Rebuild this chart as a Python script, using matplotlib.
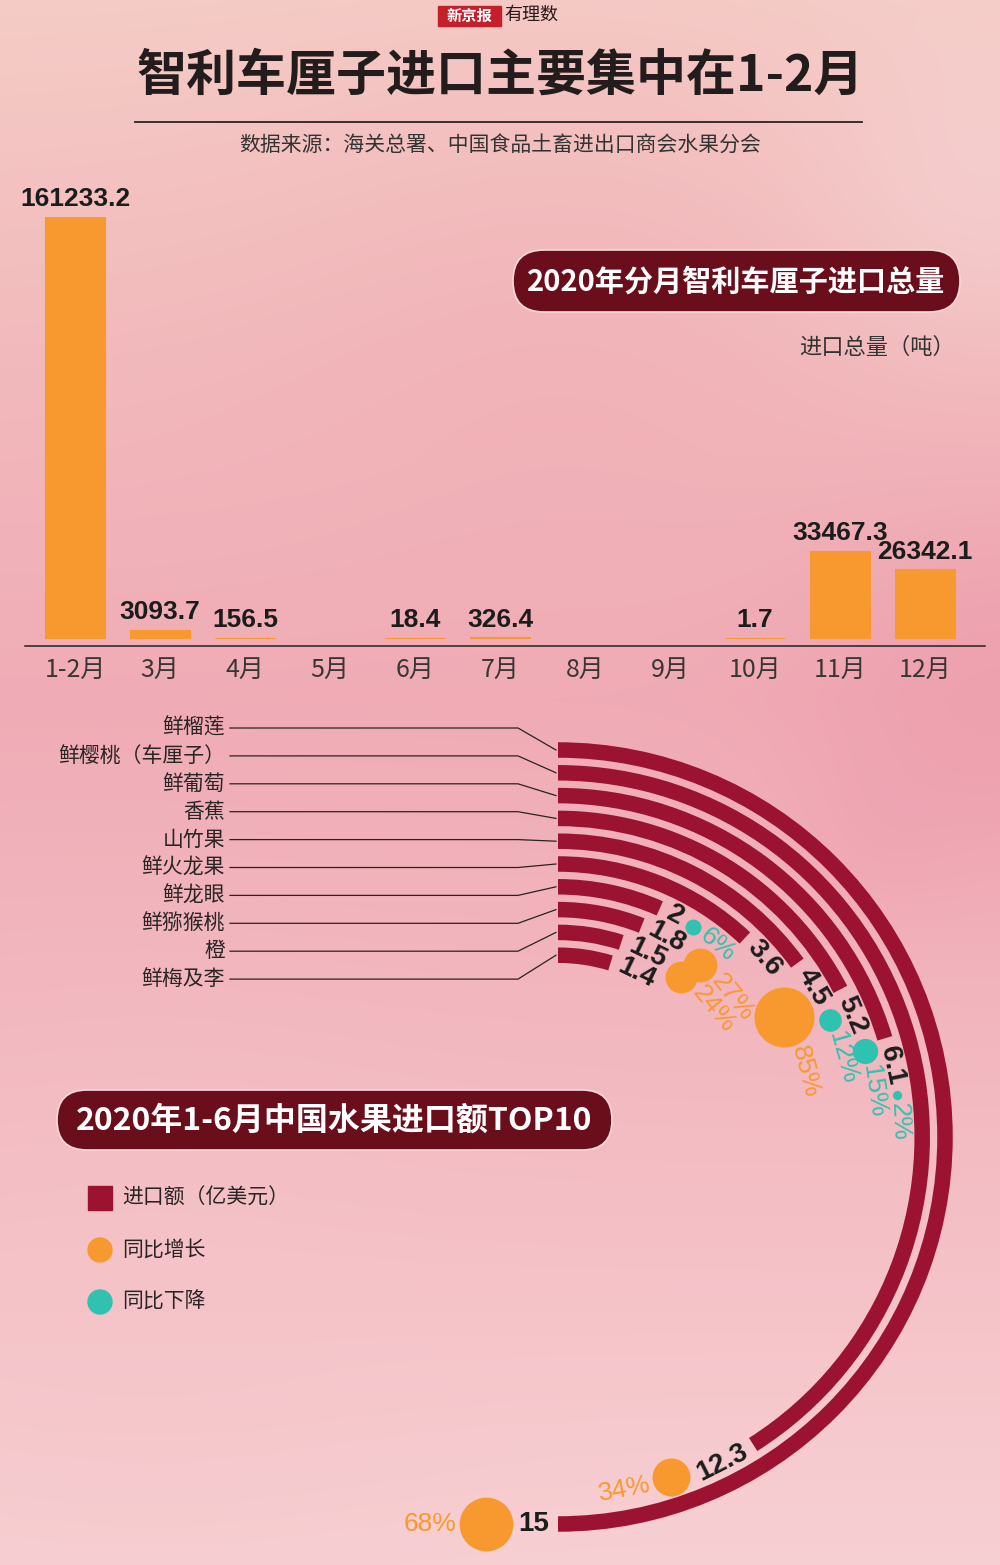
"""Chile cherry imports by month + China top-10 fruit imports (radial bars)."""

import matplotlib

matplotlib.use("Agg")
import matplotlib.pyplot as plt
import numpy as np
from matplotlib.font_manager import FontProperties
from matplotlib.patches import Circle, FancyBboxPatch, Rectangle
from matplotlib.textpath import TextPath

W, H, DPI = 1000, 1565, 100
CJK = ["Noto Sans CJK SC", "DejaVu Sans"]
NUM = ["Liberation Sans", "DejaVu Sans"]

MAROON = "#9b1331"
PILL = "#6a0e1c"
ORANGE = "#f7992f"
TEAL = "#2fc2b0"
INK = "#1c1c1c"

# ---- data: monthly imports of Chilean cherries, 2020 (tonnes)
months = ["1-2月", "3月", "4月", "5月", "6月", "7月", "8月", "9月", "10月", "11月", "12月"]
tonnes = [161233.2, 3093.7, 156.5, np.nan, 18.4, 326.4, np.nan, np.nan, 1.7, 33467.3, 26342.1]
tonne_labels = ["161233.2", "3093.7", "156.5", "", "18.4", "326.4", "", "", "1.7", "33467.3", "26342.1"]

# ---- data: top-10 fruit imports Jan-Jun 2020 (100M USD) and YoY change (%)
fruits = ["鲜榴莲", "鲜樱桃（车厘子）", "鲜葡萄", "香蕉", "山竹果", "鲜火龙果", "鲜龙眼", "鲜猕猴桃", "橙", "鲜梅及李"]
usd = [15, 12.3, 6.1, 5.2, 4.5, 3.6, 2, 1.8, 1.5, 1.4]
usd_labels = ["15", "12.3", "6.1", "5.2", "4.5", "3.6", "2", "1.8", "1.5", "1.4"]
yoy = [68, 34, -2, -15, -12, 85, -6, 27, 24, np.nan]


def text_px(s, size, family, weight="normal"):
    fp = FontProperties(family=family, size=size, weight=weight)
    return TextPath((0, 0), s, size=size, prop=fp).get_extents().width * DPI / 72


fig = plt.figure(figsize=(W / DPI, H / DPI), dpi=DPI)

# ---- background wash
bg = fig.add_axes([0, 0, 1, 1], zorder=0)
yy, xx = np.mgrid[0:H, 0:W]
stops_y = [0, 350, 700, 1100, 1565]
stops_c = [(245, 204, 198), (242, 186, 188), (240, 172, 182), (243, 186, 193), (247, 208, 211)]
img = np.stack([np.interp(yy, stops_y, [c[k] for c in stops_c]) for k in range(3)], axis=-1)
blobs = [(1000, 700, 140, (236, 150, 168), 0.55), (880, 830, 60, (238, 160, 176), 0.4),
         (560, 380, 220, (240, 168, 178), 0.35), (150, 1300, 200, (244, 196, 200), 0.4),
         (980, 180, 120, (246, 214, 214), 0.5)]
for bx, by, sg, col, a in blobs:
    wgt = a * np.exp(-((xx - bx) ** 2 + (yy - by) ** 2) / (2 * sg ** 2))
    img = img * (1 - wgt[..., None]) + np.array(col) * wgt[..., None]
bg.imshow(img.astype(np.uint8), extent=[0, W, H, 0], aspect="auto")
bg.set_xlim(0, W)
bg.set_ylim(H, 0)
bg.axis("off")

# ---- monthly bar chart
BASE_Y, ZERO_Y, TOP_Y = 646, 638, 217
ax_b = fig.add_axes([25 / W, (H - BASE_Y) / H, 960 / W, (BASE_Y - TOP_Y) / H], zorder=2)
ax_b.patch.set_alpha(0)
x = np.arange(len(months))
ymax = np.nanmax(tonnes)
ax_b.bar(x, tonnes, width=0.7, color=ORANGE, edgecolor=ORANGE, linewidth=0.8)
ax_b.set_xlim(-50 / 85, len(months) - 1 + 60 / 85)
ax_b.set_ylim(-ymax * (BASE_Y - ZERO_Y) / (ZERO_Y - TOP_Y), ymax)
for xi, v, lab in zip(x, tonnes, tonne_labels):
    if np.isnan(v):
        continue
    ax_b.annotate(lab, (xi, v), xytext=(0, 4), textcoords="offset points", ha="center", va="bottom",
                  fontsize=19, fontweight="bold", family=NUM, color=INK)
ax_b.set_xticks(x)
ax_b.set_xticklabels(months, family=CJK, fontsize=18, color="#3a3535")
ax_b.set_yticks([])
ax_b.tick_params(axis="x", length=0, pad=8)
for side in ["left", "right", "top"]:
    ax_b.spines[side].set_visible(False)
ax_b.spines["bottom"].set_color("#222222")
ax_b.spines["bottom"].set_linewidth(1.1)

# ---- radial bars
CX, CY, R_OUT, STEP, BAND, RLIM = 558, 1137, 387, 22.8, 15.5, 400
ax_p = fig.add_axes([(CX - RLIM) / W, (H - CY - RLIM) / H, 2 * RLIM / W, 2 * RLIM / H],
                    projection="polar", zorder=3)
ax_p.patch.set_alpha(0)
ax_p.set_theta_zero_location("N")
ax_p.set_theta_direction(-1)
ax_p.set_ylim(0, RLIM)
ax_p.axis("off")

K = 22.0  # marker area (pt^2) per percent
GAP1, GAP2, GAP3 = 10, 7, 4
vmax = max(usd)


def rot_for(phi):
    d = np.degrees(phi)
    return -d if d <= 90 else 180 - d


for i, (v, lab, p) in enumerate(zip(usd, usd_labels, yoy)):
    r = R_OUT - i * STEP
    end = v / vmax * np.pi
    ax_p.bar(0, BAND, width=end, bottom=r - BAND / 2, align="edge", color=MAROON, linewidth=0)

    if i == 0:
        # outermost ring: annotations run straight along the end tangent
        def place(s, rr):
            return end + np.arctan(s / rr), np.hypot(rr, s), rot_for(end)
    else:
        # inner rings: annotations follow the ring
        def place(s, rr):
            ph = end + s / rr
            return ph, rr, rot_for(ph)

    wl = text_px(lab, 20, NUM, "bold")
    s = GAP1 + wl / 2
    ph, rr, rot = place(s, r)
    ax_p.text(ph, rr, lab, fontsize=20, fontweight="bold", family=NUM, color=INK, ha="center",
              va="center", rotation=rot, rotation_mode="anchor", zorder=6, clip_on=False)
    if np.isnan(p):
        continue
    size = K * abs(p)
    rad = np.sqrt(size) * DPI / 72 / 2
    col = ORANGE if p > 0 else TEAL
    # keep the dot clear of the next ring outward
    rc = r if i == 0 else min(r, r + STEP - BAND / 2 - rad - 2)
    s += wl / 2 + GAP2 + rad
    ph, rr, _ = place(s, rc)
    ax_p.scatter([ph], [rr], s=size, color=col, linewidths=0, zorder=4, clip_on=False)
    pl = f"{abs(p):g}%"
    wp = text_px(pl, 19, NUM)
    s += rad + GAP3 + wp / 2
    ph, rr, rot = place(s, rc)
    ax_p.text(ph, rr, pl, fontsize=19, family=NUM, color=col, ha="center", va="center",
              rotation=rot, rotation_mode="anchor", zorder=6, clip_on=False)

# ---- overlay: titles, pills, labels, legend
ov = fig.add_axes([0, 0, 1, 1], zorder=5)
ov.patch.set_alpha(0)
ov.set_xlim(0, W)
ov.set_ylim(H, 0)
ov.axis("off")

ov.add_patch(Rectangle((438, 6), 63, 20, color="#c51f2b"))
ov.text(469.5, 16, "新京报", family=CJK, fontsize=11, fontweight="bold", color="white", ha="center", va="center")
ov.text(504, 15, "有理数", family=CJK, fontsize=13, color="#2a1a1a", ha="left", va="center")

ov.text(500, 76, "智利车厘子进口主要集中在1-2月", family=CJK, fontsize=36, fontweight="heavy",
        color="#231c1c", ha="center", va="center")
ov.plot([135, 862], [122, 122], color="#2a2222", lw=1.3)
ov.text(500, 146, "数据来源：海关总署、中国食品土畜进出口商会水果分会", family=CJK, fontsize=15,
        color="#333333", ha="center", va="center")

for (x0, y0, x1, y1), txt, fs in [((513, 250, 960, 312), "2020年分月智利车厘子进口总量", 21),
                                 ((57, 1090, 612, 1150), "2020年1-6月中国水果进口额TOP10", 23)]:
    hgt = y1 - y0
    ov.add_patch(FancyBboxPatch((x0, y0), x1 - x0, hgt, boxstyle=f"round,pad=0,rounding_size={hgt / 2}",
                                facecolor=PILL, edgecolor="#f6dada", linewidth=1.2))
    ov.text((x0 + x1) / 2, (y0 + y1) / 2 + 1, txt, family=CJK, fontsize=fs, fontweight="bold",
            color="white", ha="center", va="center")

ov.text(955, 347, "进口总量（吨）", family=CJK, fontsize=16, color="#333333", ha="right", va="center")

for i, name in enumerate(fruits):
    ly = 728 + i * 27.9
    ay = CY - (R_OUT - i * STEP)
    ov.text(225, ly, name, family=CJK, fontsize=15, color="#2a2424", ha="right", va="center")
    ov.plot([230, 518, 556], [ly, ly, ay], color="#2a2222", lw=0.9)

ov.add_patch(Rectangle((88, 1186), 24, 24, color=MAROON))
ov.add_patch(Circle((100, 1250), 12, color=ORANGE))
ov.add_patch(Circle((100, 1302), 12, color=TEAL))
for ly, txt in [(1198, "进口额（亿美元）"), (1250, "同比增长"), (1302, "同比下降")]:
    ov.text(122, ly, txt, family=CJK, fontsize=15, color="#2a2424", ha="left", va="center")

fig.savefig("out.png", dpi=DPI)
